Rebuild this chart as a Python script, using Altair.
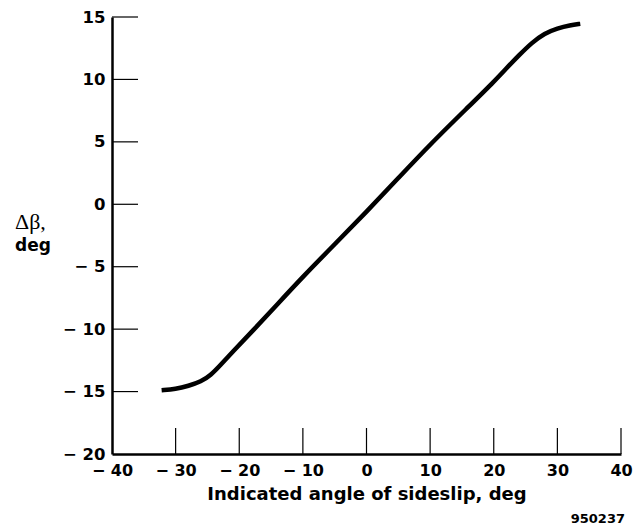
import altair as alt
import pandas as pd

# Curve
sideslip = [-32.2, -30, -28, -26, -24.5, -23, -21, -18, -14, -10, -5, 0, 5, 10, 16, 20, 22, 24, 26, 28, 30, 32, 33.6]
delta_beta = [-14.9, -14.8, -14.55, -14.2, -13.7, -12.9, -11.8, -10.2, -8.0, -5.8, -3.2, -0.6, 2.1, 4.8, 7.8, 9.8, 10.9, 11.95, 12.95, 13.7, 14.1, 14.35, 14.45]

x_ticks = [-30, -20, -10, 0, 10, 20, 30, 40]
y_ticks = [15, 10, 5, 0, -5, -10, -15]
x_labels = [-40, -30, -20, -10, 0, 10, 20, 30, 40]
y_labels = [15, 10, 5, 0, -5, -10, -15, -20]

x_title = "Indicated angle of sideslip, deg"
y_title_top = "Δβ,"
y_title_bottom = "deg"
figure_id = "950237"

W, H = 509, 437
FONT = "DejaVu Sans"

xscale = alt.Scale(domain=[-40, 40], nice=False, zero=False)
yscale = alt.Scale(domain=[-20, 15], nice=False, zero=False)

label_expr = "datum.value < 0 ? '\u2212 ' + abs(datum.value) : datum.label"

curve_df = pd.DataFrame({"x": sideslip, "y": delta_beta})

line = alt.Chart(curve_df).mark_line(
    color="black", strokeWidth=4.5, interpolate="basis", strokeCap="butt"
).encode(
    x=alt.X("x:Q", scale=xscale,
            axis=alt.Axis(values=x_labels, labelExpr=label_expr, ticks=False, grid=False,
                          labelFlush=False, labelOverlap=False,
                          domainColor="black", domainWidth=2.5,
                          labelFont=FONT, labelFontSize=16, labelFontWeight="bold",
                          labelColor="black", labelPadding=8,
                          title=x_title, titleFont=FONT, titleFontSize=18,
                          titleFontWeight="bold", titleColor="black", titlePadding=7)),
    y=alt.Y("y:Q", scale=yscale,
            axis=alt.Axis(values=y_labels, labelExpr=label_expr, ticks=False, grid=False,
                          labelFlush=False, labelOverlap=False,
                          domainColor="black", domainWidth=2.5,
                          labelFont=FONT, labelFontSize=16.5, labelFontWeight="bold",
                          labelColor="black", labelPadding=7, title=None)),
)

ytick_df = pd.DataFrame({"y": y_ticks})
yticks = alt.Chart(ytick_df).mark_rule(color="black", strokeWidth=1.2).encode(
    y=alt.Y("y:Q", scale=yscale),
    x=alt.value(0), x2=alt.value(26),
)

xtick_df = pd.DataFrame({"x": x_ticks})
xticks = alt.Chart(xtick_df).mark_rule(color="black", strokeWidth=1.2).encode(
    x=alt.X("x:Q", scale=xscale),
    y=alt.value(H), y2=alt.value(H - 26),
)

t1 = alt.Chart(pd.DataFrame({"t": [y_title_top]})).mark_text(
    font="Liberation Serif", fontSize=22, align="left", baseline="alphabetic", color="black"
).encode(text="t:N", x=alt.value(-97), y=alt.value(212))

t2 = alt.Chart(pd.DataFrame({"t": [y_title_bottom]})).mark_text(
    font=FONT, fontSize=17, fontWeight="bold", align="left", baseline="alphabetic", color="black"
).encode(text="t:N", x=alt.value(-97), y=alt.value(234))

t3 = alt.Chart(pd.DataFrame({"t": [figure_id]})).mark_text(
    font=FONT, fontSize=13, fontWeight="bold", align="right", baseline="alphabetic", color="black"
).encode(text="t:N", x=alt.value(W + 4), y=alt.value(H + 69))

chart = alt.layer(line, yticks, xticks, t1, t2, t3).properties(
    width=W, height=H,
    autosize=alt.AutoSizeParams(type="none"),
    padding={"left": 104, "top": 9, "right": 12, "bottom": 80},
).configure_view(stroke=None)

chart.save("out.html", embed_options={"renderer": "svg", "actions": False})
